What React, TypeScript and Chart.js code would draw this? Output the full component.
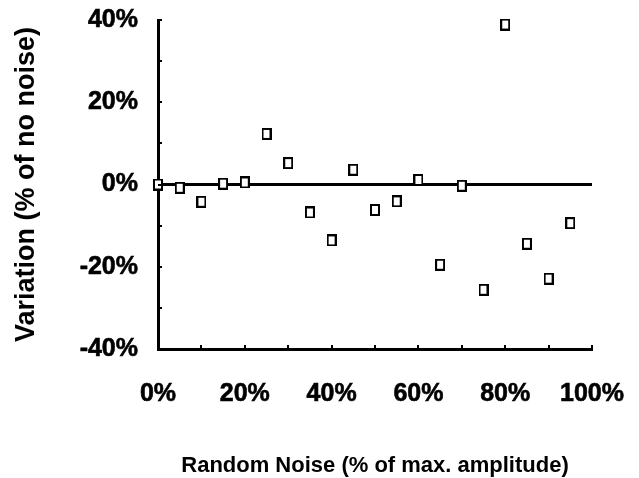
import React, { useEffect, useRef } from "react";
import { Chart, registerables } from "chart.js";

Chart.register(...registerables);

// Random noise level applied (% of max. amplitude)
const noiseLevels = [0, 5, 10, 15, 20, 25, 30, 35, 40, 45, 50, 55, 60, 65, 70, 75, 80, 85, 90, 95];
// Resulting variation (% of the no-noise result)
const variation = [0, -0.8, -4.2, 0.2, 0.5, 12.3, 5.2, -6.8, -13.6, 3.6, -6.2, -4.1, 1.1, -19.5, -0.3, -25.6, 38.9, -14.4, -22.9, -9.4];

const yTicks = [-40, -20, 0, 20, 40];
const xTicks = [0, 20, 40, 60, 80, 100];
const yMinorTicks = [-40, -30, -20, -10, 0, 10, 20, 30, 40];
const xMinorTicks = [0, 10, 20, 30, 40, 50, 60, 70, 80, 90, 100];

const FONT = "'Liberation Sans', Arial, sans-serif";

function makeMarker(): HTMLCanvasElement {
  const c = document.createElement("canvas");
  c.width = 10;
  c.height = 12;
  const g = c.getContext("2d")!;
  g.fillStyle = "#fff";
  g.fillRect(1, 1, 8, 10);
  g.strokeStyle = "#000";
  g.lineWidth = 2;
  g.strokeRect(1, 1, 8, 10);
  return c;
}

// Keep the plot box fixed: no extra room reserved for overhanging labels
function clearScalePadding(s: any) {
  s.paddingLeft = 0;
  s.paddingRight = 0;
  s.paddingTop = 0;
  s.paddingBottom = 0;
}

// Short inward tick marks along both axes
const minorTickPlugin = {
  id: "minorTicks",
  afterDraw(chart: any) {
    const { ctx, chartArea, scales } = chart;
    ctx.save();
    ctx.strokeStyle = "#000";
    ctx.lineWidth = 2;
    ctx.beginPath();
    for (const v of yMinorTicks) {
      const y = Math.round(scales.y.getPixelForValue(v));
      ctx.moveTo(chartArea.left, y);
      ctx.lineTo(chartArea.left + 4, y);
    }
    for (const v of xMinorTicks) {
      const x = Math.round(scales.x.getPixelForValue(v));
      ctx.moveTo(x, chartArea.bottom);
      ctx.lineTo(x, chartArea.bottom - 4);
    }
    ctx.stroke();
    ctx.restore();
  },
};

export default function App() {
  const canvasRef = useRef<HTMLCanvasElement | null>(null);

  useEffect(() => {
    if (!canvasRef.current) return;
    const marker = makeMarker();
    const chart = new Chart(canvasRef.current, {
      type: "scatter",
      data: {
        datasets: [
          {
            data: noiseLevels.map((x, i) => ({ x, y: variation[i] })),
            pointStyle: marker as any,
            pointRadius: 6,
            pointHoverRadius: 6,
            clip: false as any,
          },
        ],
      },
      options: {
        animation: false,
        responsive: true,
        maintainAspectRatio: false,
        layout: { padding: { left: 0, top: 20, right: 47, bottom: 0 } },
        plugins: { legend: { display: false }, tooltip: { enabled: false } },
        scales: {
          x: {
            type: "linear",
            min: 0,
            max: 100,
            afterFit: (s: any) => {
              s.height = 129;
              clearScalePadding(s);
            },
            afterBuildTicks: (s: any) => {
              s.ticks = xTicks.map((value) => ({ value }));
            },
            grid: { display: false, drawTicks: false },
            border: { display: true, color: "#000", width: 3 },
            ticks: {
              color: "#000",
              padding: 30,
              font: { family: FONT, size: 25, weight: "bold" },
              textStrokeColor: "#000",
              textStrokeWidth: 0.6,
              callback: (v: any) => `${v}%`,
            },
            title: {
              display: true,
              text: "Random Noise (% of max. amplitude)",
              color: "#000",
              font: { family: FONT, size: 22, weight: "bold", lineHeight: 1.1 },
              padding: { top: 0, bottom: 0 },
            },
          },
          y: {
            type: "linear",
            min: -40,
            max: 40,
            afterFit: (s: any) => {
              s.width = 158;
              clearScalePadding(s);
            },
            afterBuildTicks: (s: any) => {
              s.ticks = yTicks.map((value) => ({ value }));
            },
            grid: {
              display: true,
              drawTicks: false,
              color: (c: any) => (c.tick && c.tick.value === 0 ? "#000" : "rgba(0,0,0,0)"),
              lineWidth: (c: any) => (c.tick && c.tick.value === 0 ? 3 : 0),
            },
            border: { display: true, color: "#000", width: 3 },
            ticks: {
              color: "#000",
              padding: 20,
              font: { family: FONT, size: 25, weight: "bold" },
              textStrokeColor: "#000",
              textStrokeWidth: 0.6,
              callback: (v: any) => `${v}%`,
            },
            title: {
              display: true,
              text: "Variation (% of no noise)",
              color: "#000",
              font: { family: FONT, size: 27, weight: "bold", lineHeight: 1.2 },
              padding: { top: 10, bottom: 0 },
            },
          },
        },
      },
      plugins: [minorTickPlugin],
    });
    return () => chart.destroy();
  }, []);

  return (
    <div style={{ position: "fixed", left: 0, top: 0, width: 639, height: 478, background: "#fff" }}>
      <canvas ref={canvasRef} />
    </div>
  );
}
